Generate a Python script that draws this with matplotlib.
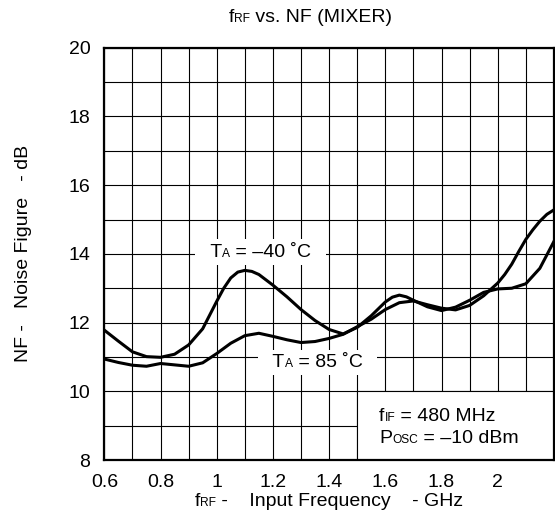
import matplotlib
matplotlib.use("Agg")
import matplotlib.pyplot as plt
from matplotlib.patches import Rectangle
from matplotlib.ticker import MultipleLocator
from matplotlib.offsetbox import TextArea, HPacker, AnnotationBbox

plt.rcParams["font.family"] = ["Liberation Sans", "DejaVu Sans"]

# ---------- data ----------
freq_m40 = [0.60, 0.65, 0.70, 0.75, 0.80, 0.85, 0.90, 0.95, 1.00, 1.025, 1.05,
            1.075, 1.10, 1.125, 1.15, 1.20, 1.25, 1.30, 1.35, 1.40, 1.45, 1.50,
            1.55, 1.60, 1.625, 1.65, 1.675, 1.70, 1.75, 1.80, 1.85, 1.90, 1.95,
            2.00, 2.05, 2.10, 2.15, 2.20]
nf_m40 = [11.78, 11.46, 11.15, 11.01, 10.99, 11.08, 11.35, 11.82, 12.62, 13.00,
          13.30, 13.47, 13.52, 13.49, 13.40, 13.09, 12.75, 12.38, 12.06, 11.80,
          11.67, 11.86, 12.20, 12.60, 12.74, 12.80, 12.75, 12.65, 12.46, 12.35,
          12.45, 12.65, 12.88, 12.98, 13.00, 13.13, 13.58, 14.36]

freq_85 = [0.60, 0.65, 0.70, 0.75, 0.80, 0.85, 0.90, 0.95, 1.00, 1.05, 1.10,
           1.15, 1.20, 1.25, 1.30, 1.35, 1.40, 1.45, 1.50, 1.55, 1.60, 1.65,
           1.70, 1.75, 1.80, 1.85, 1.90, 1.95, 2.00, 2.025, 2.05, 2.075, 2.10,
           2.125, 2.15, 2.175, 2.20]
nf_85 = [10.94, 10.84, 10.76, 10.73, 10.81, 10.77, 10.73, 10.83, 11.10, 11.40,
         11.62, 11.69, 11.60, 11.50, 11.42, 11.45, 11.54, 11.66, 11.88, 12.10,
         12.38, 12.58, 12.63, 12.52, 12.42, 12.37, 12.50, 12.78, 13.15, 13.40,
         13.70, 14.07, 14.42, 14.70, 14.95, 15.15, 15.28]

x_ticks = [0.6, 0.8, 1.0, 1.2, 1.4, 1.6, 1.8, 2.0]
x_tick_labels = ["0.6", "0.8", "1", "1.2", "1.4", "1.6", "1.8", "2"]
y_ticks = [8, 10, 12, 14, 16, 18, 20]

FS = 14
SUB = FS * 0.62


def rich(parts):
    # parts: (text, small?) pieces sitting on one baseline, like the datasheet subscripts
    kids = [TextArea(t, textprops=dict(fontsize=SUB if small else FS)) for t, small in parts]
    return HPacker(children=kids, align="baseline", pad=0, sep=0)


def put(target, parts, xy, coords, box=False, align=(0.5, 0.5)):
    ab = AnnotationBbox(rich(parts), xy, xycoords=coords, box_alignment=align,
                        frameon=box, pad=0.15, zorder=2,
                        bboxprops=dict(facecolor="white", edgecolor="none", boxstyle="square"))
    target.add_artist(ab)
    return ab


fig = plt.figure(figsize=(5.55, 5.24), dpi=100)
ax = fig.add_axes([0.188, 0.122, 0.810, 0.787])

ax.set_xlim(0.6, 2.2)
ax.set_ylim(8, 20)
ax.set_xticks(x_ticks)
ax.set_xticklabels(x_tick_labels)
ax.set_yticks(y_ticks)
ax.xaxis.set_minor_locator(MultipleLocator(0.1))
ax.yaxis.set_minor_locator(MultipleLocator(1))
ax.tick_params(which="both", length=0, labelsize=FS)
ax.tick_params(axis="x", pad=10)
ax.tick_params(axis="y", pad=10)

ax.grid(which="both", color="black", linewidth=0.8, zorder=0)
ax.set_axisbelow(True)
for sp in ax.spines.values():
    sp.set_linewidth(1.6)

# curves
ax.plot(freq_m40, nf_m40, color="black", lw=2.2, zorder=3, solid_joinstyle="round")
ax.plot(freq_85, nf_85, color="black", lw=2.2, zorder=3, solid_joinstyle="round")

# white box with test conditions, bottom right
ax.add_patch(Rectangle((1.5, 8), 0.7, 2, facecolor="white", edgecolor="black",
                       linewidth=0.8, zorder=1))
put(ax, [("f", False), ("IF", True), (" = 480 MHz", False)], (1.578, 9.27),
    "data", align=(0.0, 0.5))
put(ax, [("P", False), ("OSC", True), (" = –10 dBm", False)], (1.578, 8.63),
    "data", align=(0.0, 0.5))

# curve labels (white background breaks the grid)
put(ax, [("  T", False), ("A", True), (" = –40 ˚C  ", False)], (1.156, 14.05),
    "data", box=True)
put(ax, [("  T", False), ("A", True), (" = 85 ˚C  ", False)], (1.36, 10.83),
    "data", box=True)

ax.set_ylabel("NF -   Noise Figure   - dB", fontsize=FS, labelpad=26)
put(ax, [("f", False), ("RF", True), (" -    Input Frequency    - GHz", False)],
    (0.5, -0.100), "axes fraction")
put(fig, [("f", False), ("RF", True), (" vs. NF (MIXER)", False)],
    (0.560, 0.966), "figure fraction")

fig.savefig("out.png", dpi=100)
